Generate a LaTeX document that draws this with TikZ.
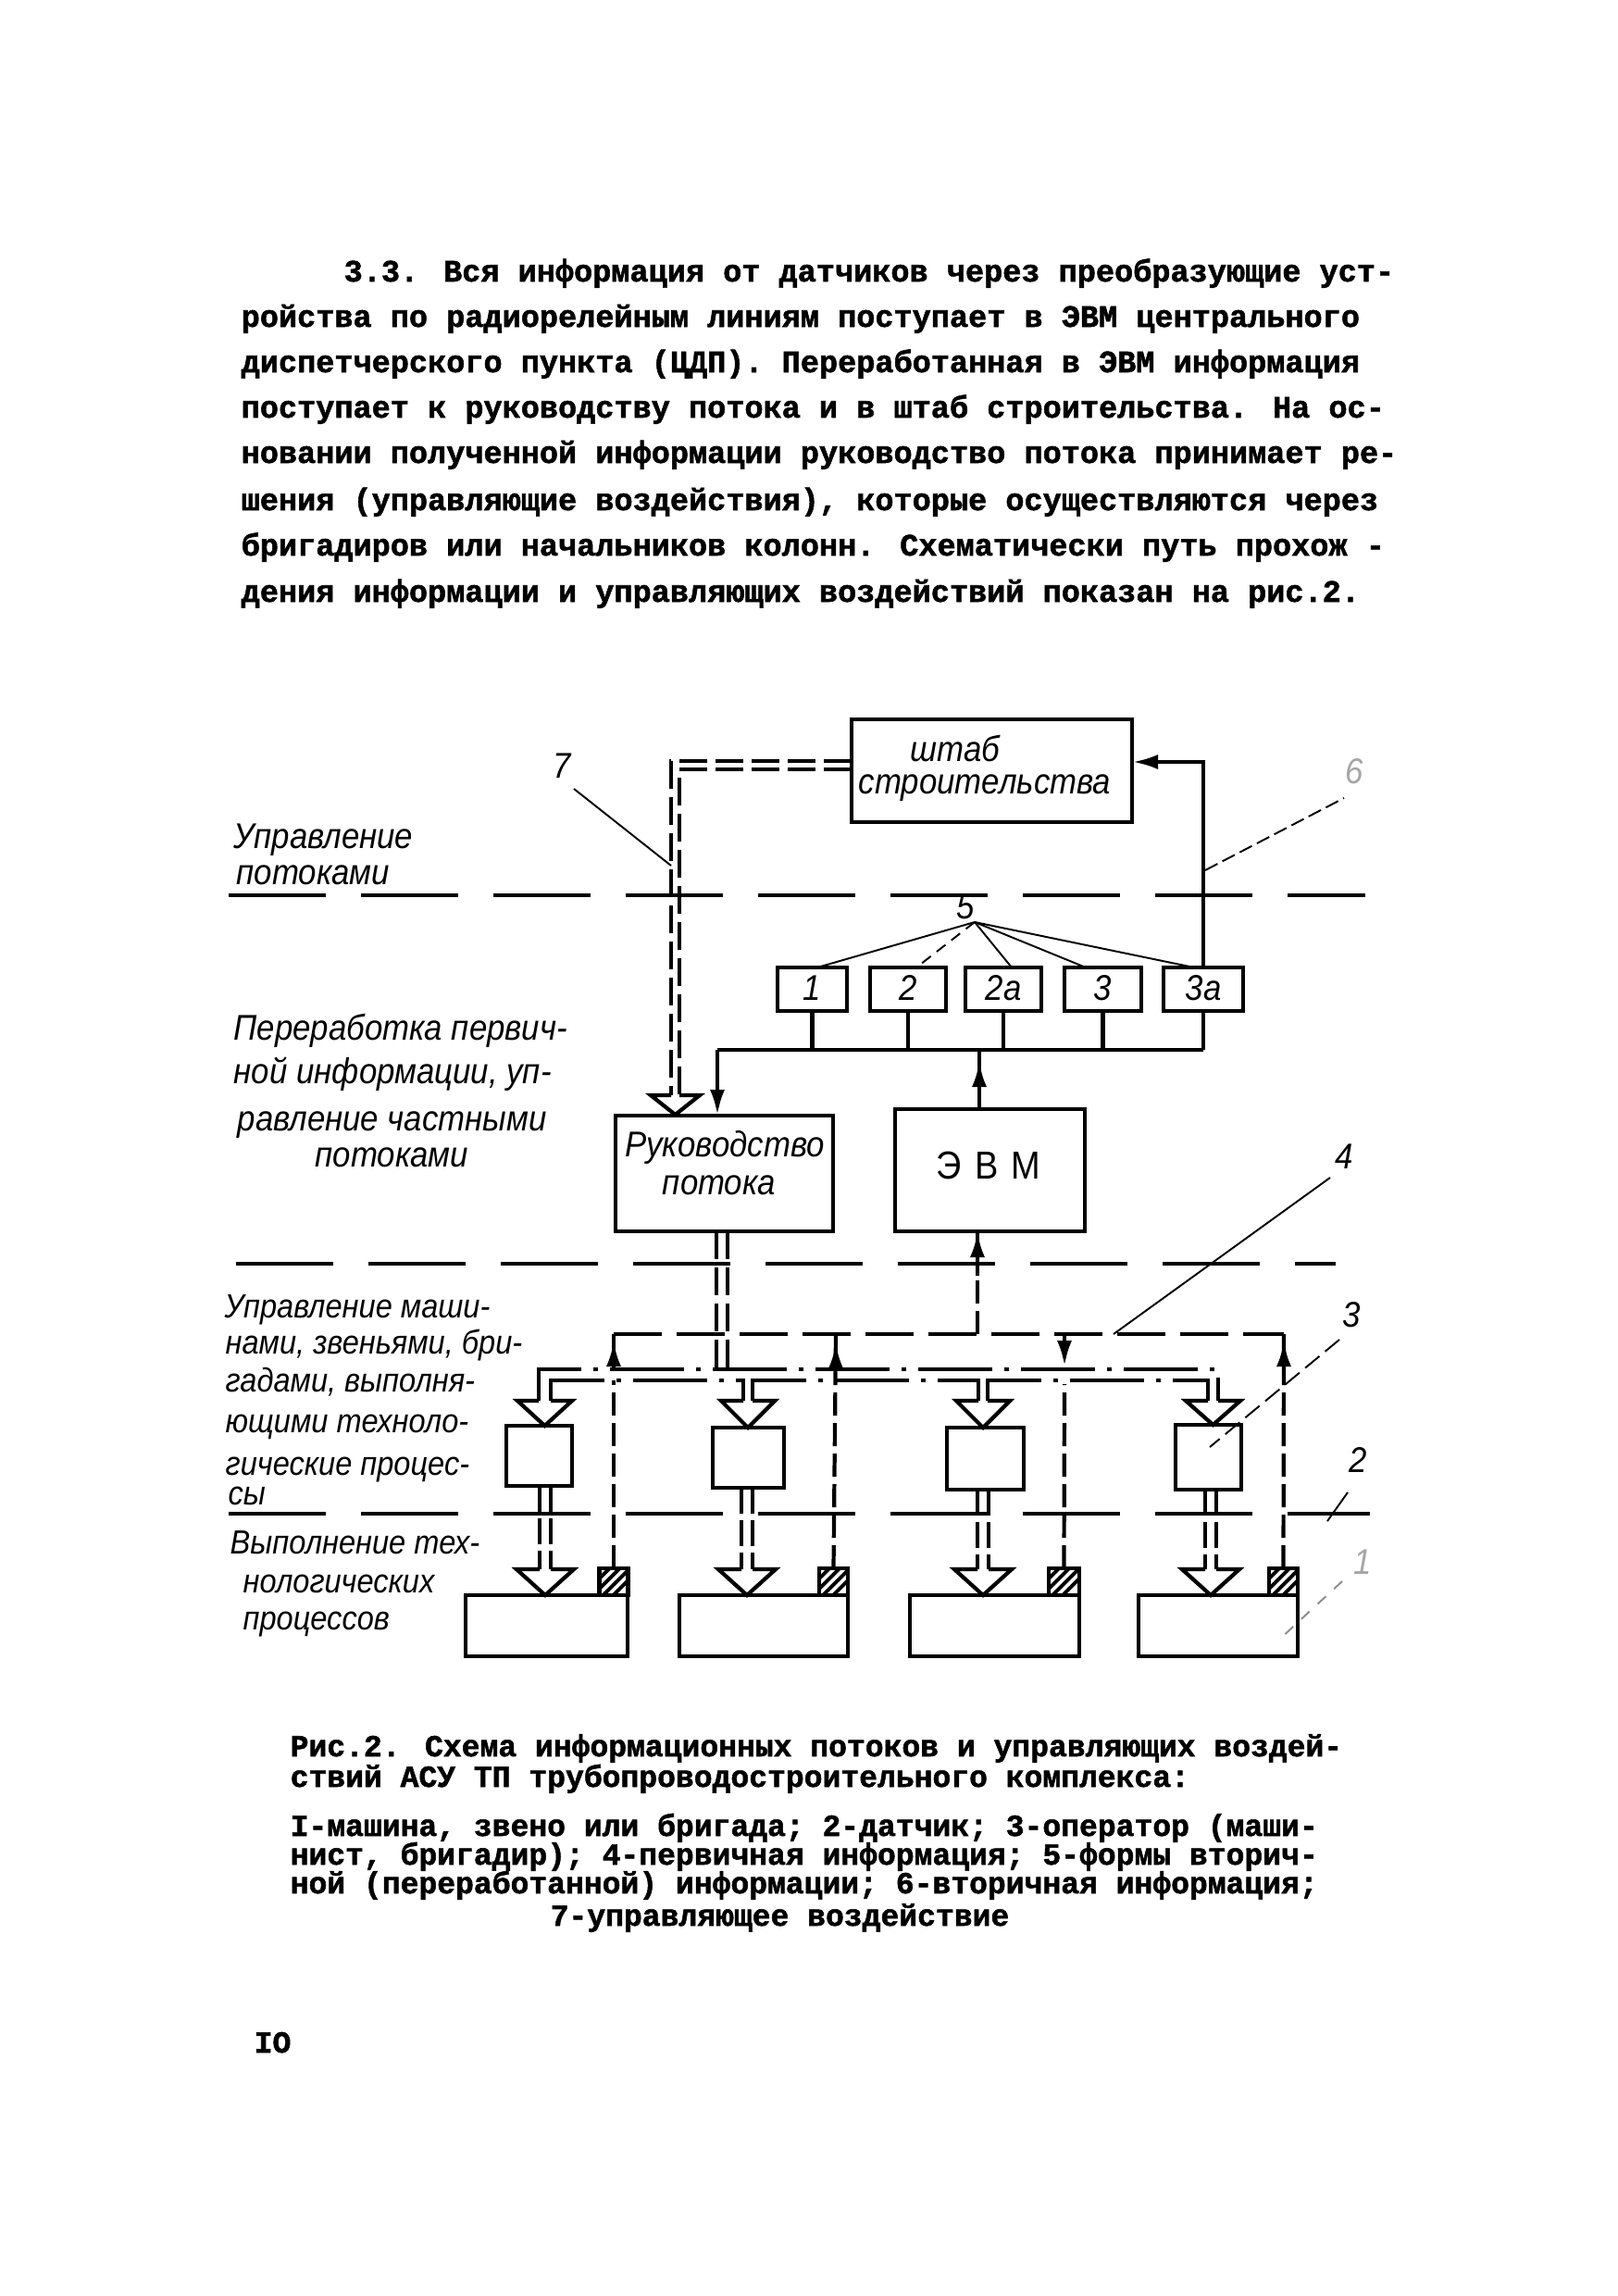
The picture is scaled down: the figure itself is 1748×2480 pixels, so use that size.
\documentclass[tikz,border=0pt]{standalone}
\usepackage{fontspec}
\setmainfont{Liberation Serif}
\newfontfamily\tw{Liberation Mono}[BoldFeatures={FakeBold=1.6}]
\newfontfamily\hand{Liberation Sans}[FakeStretch=0.9]
\usetikzlibrary{arrows.meta,calc}
\tikzset{
  thk/.style={line width=1.3pt},
  thn/.style={line width=0.55pt},
  sepline/.style={line width=1.2pt, dash pattern=on 10.5mm off 3.8mm},
  dblline/.style={line width=1pt, dash pattern=on 3mm off 0.9mm},
  lowdbl/.style={line width=1.1pt, dash pattern=on 2.8mm off 0.7mm},
  primline/.style={line width=1.2pt, dash pattern=on 5.2mm off 1.6mm},
  primv/.style={line width=1.2pt, dash pattern=on 2.5mm off 0.8mm},
  ddline/.style={line width=1.1pt, dash pattern=on 8mm off 1.3mm on 0.5mm off 1.3mm},
  blk/.style={draw, line width=1.3pt, inner sep=0pt, outer sep=0pt},
  hollow/.style={line width=1.2pt, line join=miter, fill=white},
  tipfill/.style={-{Latex[length=2.8mm,width=1.6mm]}},
  ptxt/.style={anchor=base west, inner sep=0pt, font=\tw\bfseries\fontsize{9.55}{11}\selectfont},
  ctxt/.style={anchor=base west, inner sep=0pt, font=\tw\bfseries\fontsize{9.4}{10}\selectfont},
  htxtA/.style={anchor=base west, inner sep=0pt, font=\hand\itshape\fontsize{11}{12}\selectfont},
  htxtB/.style={anchor=base west, inner sep=0pt, font=\hand\itshape\fontsize{11}{12}\selectfont},
  htxtC/.style={anchor=base west, inner sep=0pt, font=\hand\itshape\fontsize{10.3}{12}\selectfont},
  btxt/.style={anchor=base, inner sep=0pt, font=\hand\itshape\fontsize{11}{12}\selectfont},
  numtxt/.style={anchor=base, inner sep=0pt, font=\hand\itshape\fontsize{11}{12}\selectfont},
  sensor/.style={blk, fill=white, path picture={
      \foreach \k in {-2,...,1} {\draw[line width=1.1pt] ($(path picture bounding box.south west)+(\k*11+4,0)$) -- ++(40,-40);}}}
}
\begin{document}
\begin{tikzpicture}[x=0.1mm,y=-0.1mm]
\useasboundingbox (0,0) rectangle (1748,2480);
\fill[white] (0,0) rectangle (1748,2480);

% ---------------- paragraph ----------------
\node[ptxt] (p1) at (371,304) {3.3. Вся информация от датчиков через преобразующие уст-};
\node[ptxt] (p2) at (260,353) {ройства по радиорелейным линиям поступает в ЭВМ центрального};
\node[ptxt] (p3) at (260,402) {диспетчерского пункта (ЦДП). Переработанная в ЭВМ информация};
\node[ptxt] (p4) at (260,451) {поступает к руководству потока и в штаб строительства. На ос-};
\node[ptxt] (p5) at (260,500) {новании полученной информации руководство потока принимает ре-};
\node[ptxt] (p6) at (260,551) {шения (управляющие воздействия), которые осуществляются через};
\node[ptxt] (p7) at (260,600) {бригадиров или начальников колонн. Схематически путь прохож -};
\node[ptxt] (p8) at (260,650) {дения информации и управляющих воздействий показан на рис.2.};

% ---------------- caption ----------------
\node[ctxt] (c1) at (313,1897) {Рис.2. Схема информационных потоков и управляющих воздей-};
\node[ctxt] (c2) at (313,1930) {ствий АСУ ТП трубопроводостроительного комплекса:};
\node[ctxt] (c3) at (313,1983) {I-машина, звено или бригада; 2-датчик; 3-оператор (маши-};
\node[ctxt] (c4) at (313,2014) {нист, бригадир); 4-первичная информация; 5-формы вторич-};
\node[ctxt] (c5) at (313,2045) {ной (переработанной) информации; 6-вторичная информация;};
\node[ctxt] (c6) at (594,2080) {7-управляющее воздействие};
\node[ctxt] (pagenum) at (274,2217) {IO};

% ---------------- separators ----------------
\draw[sepline] (247,967) coordinate (sepAa) -- (1475,967) coordinate (sepAb);
\draw[sepline] (255,1365) coordinate (sepBa) -- (1443,1365) coordinate (sepBb);
\draw[sepline] (247,1635) coordinate (sepCa) -- (1480,1635) coordinate (sepCb);

% ---------------- left labels ----------------
\node[htxtA] (la1) at (252,916) {Управление};
\node[htxtA] (la2) at (255,955) {потоками};
\node[htxtB] (lb1) at (252,1123) {Переработка первич-};
\node[htxtB] (lb2) at (252,1170) {ной информации, уп-};
\node[htxtB] (lb3) at (256,1221) {равление частными};
\node[htxtB] (lb4) at (340,1260) {потоками};
\node[htxtC] (lc1) at (242,1423) {Управление маши-};
\node[htxtC] (lc2) at (243,1462) {нами, звеньями, бри-};
\node[htxtC] (lc3) at (243,1503) {гадами, выполня-};
\node[htxtC] (lc4) at (243,1547) {ющими техноло-};
\node[htxtC] (lc5) at (243,1593) {гические процес-};
\node[htxtC] (lc6) at (246,1625) {сы};
\node[htxtC] (ld1) at (248,1678) {Выполнение тех-};
\node[htxtC] (ld2) at (262,1720) {нологических};
\node[htxtC] (ld3) at (262,1760) {процессов};

% ---------------- upper boxes ----------------
\node[blk, minimum width=30.3mm, minimum height=11.1mm] (shtab) at (1071.5,832.5) {};
\node[btxt] (shtabA) at (1032,822) {штаб};
\node[btxt] (shtabB) at (1064,857) {строительства};

\node[blk, minimum width=7.5mm, minimum height=4.7mm] (b1) at (877.5,1068.5) {};
\node[blk, minimum width=8.2mm, minimum height=4.7mm] (b2) at (981,1068.5) {};
\node[blk, minimum width=8.2mm, minimum height=4.7mm] (b2a) at (1084,1068.5) {};
\node[blk, minimum width=8.3mm, minimum height=4.7mm] (b3) at (1191.5,1068.5) {};
\node[blk, minimum width=8.6mm, minimum height=4.7mm] (b3a) at (1300,1068.5) {};
\node[btxt] (b1t) at (877,1080) {1};
\node[btxt] (b2t) at (981,1080) {2};
\node[btxt] (b2at) at (1084,1080) {2а};
\node[btxt] (b3t) at (1191,1080) {3};
\node[btxt] (b3at) at (1300,1080) {3а};

\node[blk, minimum width=23.5mm, minimum height=12.5mm] (rukov) at (782.5,1267.5) {};
\node[btxt] (rukA) at (783,1249) {Руководство};
\node[btxt] (rukB) at (777,1290) {потока};

\node[blk, minimum width=20.5mm, minimum height=13.2mm] (evm) at (1069.5,1264) {};
\node[anchor=base, inner sep=0pt, font=\hand\fontsize{12}{12}\selectfont] (evmt) at (1068,1273) {Э\,\,В\,\,М};

% bus of secondary information forms
\coordinate (busL) at (775,1134);
\coordinate (busR) at (1300,1134);
\draw[thk] (busL) -- (busR);
\foreach \b in {b1,b2,b2a,b3,b3a} {\draw[thk] (\b.south) -- (\b.south |- busL);}
\draw[thk,tipfill] (busL) -- (rukov.north -| busL);
\draw[thk] (evm.north -| 1058,0) -- (1058,1134);
\draw[thk,tipfill] (evm.north -| 1058,0) -- (1058,1146);
% secondary information to staff
\draw[thk,tipfill] (b3a.north) -- (b3a.north |- 0,823) -- (shtab.east |- 0,823);

% control action 7 (double dashed) from staff to management
\draw[dblline] (shtab.west |- 0,822) -- (725,822) -- (725,1183);
\draw[dblline] (shtab.west |- 0,831) -- (734,831) -- (734,1183);
\draw[hollow] (725,1183) -- (703,1183) -- (729.5,1204) -- (756,1183) -- (734,1183);

% label 7
\node[numtxt] (l7) at (607,840) {7};
\draw[thn] (620,852) -- (725,935);
% label 5
\node[numtxt] (l5) at (1043,992) {5};
\draw[thn] (1053,996) -- (883,1045);
\draw[thn, dash pattern=on 1.2mm off 0.8mm] (1053,996) -- (990,1045);
\draw[thn] (1053,996) -- (1093,1045);
\draw[thn] (1053,996) -- (1173,1045);
\draw[thn] (1053,996) -- (1290,1045);
% label 6 (faint)
\node[numtxt, text=black!35] (l6) at (1463,846) {6};
\draw[thn, dash pattern=on 1.5mm off 0.6mm] (1302,940) -- (1452,862);

% ---------------- primary information (4) ----------------
\coordinate (pL) at (663,1441);
\coordinate (pR) at (1387,1441);
\draw[primline] (pL) -- (pR);
% from EVM down
\draw[primv] (1056,1441) -- (1056,1372);
\draw[thk] (1056,1378) -- (evm.south -| 1056,0);
\draw[thk,tipfill] (1056,1372) -- (evm.south -| 1056,0);

% double dash-dot bus of control actions
\draw[ddline] (582,1513) -- (582,1479) -- (1316,1479) -- (1316,1513);
\draw[ddline] (595,1513) -- (595,1491) -- (803,1491) -- (803,1513);
\draw[ddline] (813,1513) -- (813,1491) -- (1057,1491) -- (1057,1513);
\draw[ddline] (1067,1513) -- (1067,1491) -- (1305,1491) -- (1305,1513);
\draw[thk] (582,1513) -- (582,1500);
\draw[thk] (595,1513) -- (595,1500);
\draw[thk] (803,1513) -- (803,1491);
\draw[thk] (813,1513) -- (813,1491);
\draw[thk] (1057,1513) -- (1057,1491);
\draw[thk] (1067,1513) -- (1067,1491);
\draw[thk] (1305,1513) -- (1305,1500);
\draw[thk] (1316,1513) -- (1316,1500);

% from management down (double dashed)
\draw[dblline] (rukov.south -| 774,0) -- (774,1479);
\draw[dblline] (rukov.south -| 786,0) -- (786,1479);

% ---------------- operators (3) ----------------
\node[blk, minimum width=7.1mm, minimum height=6.5mm] (o1) at (582.5,1572.5) {};
\node[blk, minimum width=7.7mm, minimum height=6.5mm] (o2) at (808.5,1574.5) {};
\node[blk, minimum width=8.3mm, minimum height=6.7mm] (o3) at (1064.5,1575.5) {};
\node[blk, minimum width=7.1mm, minimum height=7.0mm] (o4) at (1305.5,1574) {};
\draw[hollow] (582,1513) -- (559,1513) -- (588.5,1540) -- (618,1513) -- (595,1513);
\draw[hollow] (803,1513) -- (779,1513) -- (808,1542) -- (837,1513) -- (813,1513);
\draw[hollow] (1057,1513) -- (1033,1513) -- (1062,1542) -- (1091,1513) -- (1067,1513);
\draw[hollow] (1305,1513) -- (1281,1513) -- (1310.5,1539) -- (1340,1513) -- (1316,1513);

% ---------------- machines (1) and sensors (2) ----------------
\node[blk, minimum width=17.5mm, minimum height=6.6mm] (m1) at (590.5,1756) {};
\node[blk, minimum width=18.2mm, minimum height=6.6mm] (m2) at (825,1756) {};
\node[blk, minimum width=18.3mm, minimum height=6.6mm] (m3) at (1074.5,1756) {};
\node[blk, minimum width=17.2mm, minimum height=6.6mm] (m4) at (1316,1756) {};
\node[sensor, minimum width=3.1mm, minimum height=2.9mm] (s1) at (663,1708.5) {};
\node[sensor, minimum width=3.1mm, minimum height=2.9mm] (s2) at (900.5,1708.5) {};
\node[sensor, minimum width=3.3mm, minimum height=2.9mm] (s3) at (1149.5,1708.5) {};
\node[sensor, minimum width=3.1mm, minimum height=2.9mm] (s4) at (1386.5,1708.5) {};

% operator -> machine (double dashed with hollow arrow)
\foreach \o/\c in {o1/589,o2/807,o3/1062,o4/1308} {
  \draw[lowdbl] (\o.south -| \c-6,0) -- (\c-6,1695);
  \draw[lowdbl] (\o.south -| \c+6,0) -- (\c+6,1695);
  \draw[hollow] (\c-6,1695) -- (\c-31,1695) -- (\c,1723) -- (\c+31,1695) -- (\c+6,1695);
}

% sensors -> primary information bus
\draw[primv] (s1.north) -- (663,1491);
\draw[thk] (663,1441) -- (663,1479);
\draw[thk,tipfill] (663,1479) -- (663,1448);
\draw[primv] (s2.north) -- (903,1441);
\draw[thk] (903,1441) -- (903,1480);
\draw[thk,tipfill] (903,1480) -- (903,1450);
\draw[primv] (s3.north) -- (1150,1495);
\draw[thk,tipfill] (1150,1441) -- (1150,1476);
\draw[primv] (s4.north) -- (1387,1441);
\draw[thk] (1387,1441) -- (1387,1482);
\draw[thk,tipfill] (1387,1482) -- (1387,1448);

% labels 4, 3, 2, 1
\node[numtxt] (l4) at (1452,1262) {4};
\draw[thn] (1437,1272) -- (1203,1441);
\node[numtxt] (l3) at (1460,1433) {3};
\draw[thn, dash pattern=on 2mm off 0.8mm] (1447,1447) -- (1307,1563);
\node[numtxt] (l2) at (1467,1590) {2};
\draw[thn] (1456,1612) -- (1434,1643);
\node[numtxt, text=black!35] (l1) at (1472,1700) {1};
\draw[thn, black!45, dash pattern=on 1.2mm off 1.2mm] (1450,1708) -- (1383,1770);
\end{tikzpicture}
\end{document}
